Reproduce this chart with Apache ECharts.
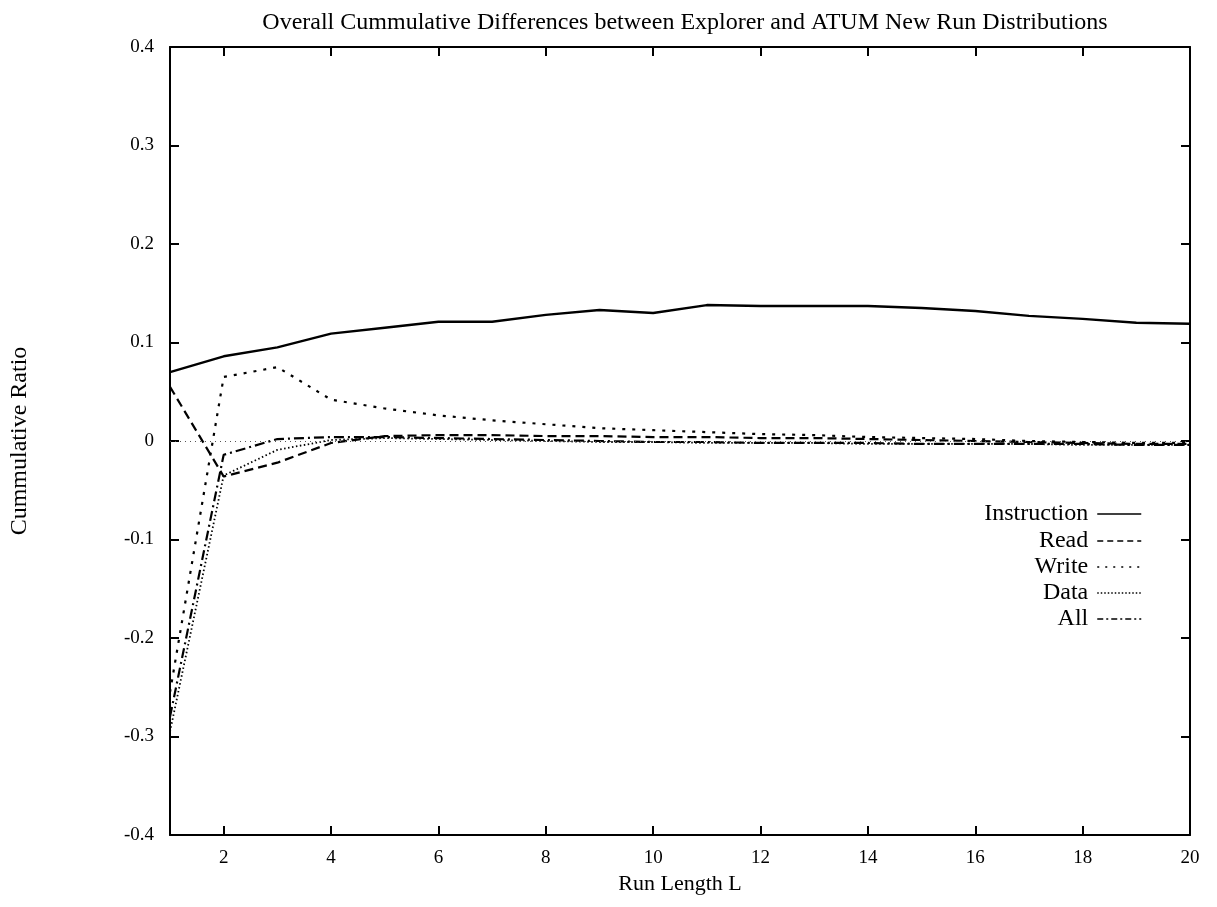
<!DOCTYPE html>
<html>
<head>
<meta charset="utf-8">
<script src="https://cdn.jsdelivr.net/npm/echarts@6/dist/echarts.min.js"></script>
<style>html,body{margin:0;padding:0;background:#fff}#c{width:1217px;height:907px}</style>
</head>
<body>
<div id="c"></div>
<script>
const runLength = [1,2,3,4,5,6,7,8,9,10,11,12,13,14,15,16,17,18,19,20];
const instruction = [0.070,0.086,0.095,0.109,0.115,0.121,0.121,0.128,0.133,0.130,0.138,0.137,0.137,0.137,0.135,0.132,0.127,0.124,0.120,0.119];
const read = [0.055,-0.036,-0.022,-0.002,0.005,0.006,0.006,0.005,0.005,0.004,0.004,0.003,0.003,0.002,0.001,0.000,-0.001,-0.002,-0.003,-0.003];
const write = [-0.255,0.065,0.075,0.042,0.033,0.026,0.021,0.017,0.013,0.011,0.009,0.007,0.006,0.004,0.003,0.002,0.000,-0.001,-0.002,-0.002];
const dataSeries = [-0.295,-0.035,-0.009,0.001,0.003,0.002,0.001,0.000,-0.001,-0.001,-0.002,-0.002,-0.002,-0.003,-0.003,-0.003,-0.003,-0.004,-0.004,-0.004];
const all = [-0.280,-0.014,0.002,0.004,0.004,0.003,0.002,0.001,0.000,-0.001,-0.001,-0.002,-0.002,-0.002,-0.003,-0.003,-0.003,-0.003,-0.004,-0.004];
const xTicks = [2,4,6,8,10,12,14,16,18,20];
const names = ['Instruction','Read','Write','Data','All'];

const font = 'Liberation Serif, Times New Roman, serif';
const chart = echarts.init(document.getElementById('c'), null, {renderer:'canvas'});
const pair = arr => runLength.map((x,i)=>[x,arr[i]]);
const styles = [
  {type:'solid', width:2.4},
  {type:[9,5], width:2.2},
  {type:[3,7], width:2.2},
  {type:[1.5,2.5], width:1.8},
  {type:[10,4,2,4], width:2.2}
];
const legendDash = ['solid',[6,4],[2,6],[1.5,2],[6,3,2,3]];
const values = [instruction, read, write, dataSeries, all];
const series = names.map((n,i)=>({
  name:n, type:'line', data:pair(values[i]), showSymbol:false, symbol:'none',
  lineStyle:{color:'#000', width:styles[i].width, type:styles[i].type},
  itemStyle:{color:'#000'}, z: 3, animation:false,
  markLine: i===0 ? {silent:true, symbol:'none', label:{show:false},
    lineStyle:{color:'#555', type:[1,4], width:1}, data:[{yAxis:0}]} : undefined
}));
const rowCenters = [515, 542, 568, 594, 620];
const legends = names.map((n,i)=>({
  data:[n], orient:'vertical', align:'right', right:75, top:rowCenters[i]-13,
  itemWidth:44, itemHeight:14, selectedMode:false, padding:0,
  textStyle:{fontFamily:font, fontSize:24, color:'#000', padding:[0,4,0,0]},
  itemStyle:{opacity:0, borderWidth:0, color:'rgba(0,0,0,0)'},
  lineStyle:{width:1.5, type:legendDash[i], color:'#000'}
}));
const tickStyle = {show:true, inside:true, length:9, lineStyle:{color:'#000', width:2}};
chart.setOption({
  animation:false,
  backgroundColor:'#fff',
  title:{text:'Overall Cummulative Differences between Explorer and ATUM New Run Distributions',
    left:680, textAlign:'center', top:6,
    textStyle:{fontFamily:font, fontSize:24, fontWeight:'normal', color:'#000'}},
  legend:legends,
  grid:{left:170, right:27, top:47, bottom:72},
  xAxis:[
    {type:'value', min:1, max:20, position:'bottom',
     name:'Run Length L', nameLocation:'middle', nameGap:38,
     nameTextStyle:{fontFamily:font, fontSize:22, color:'#000'},
     axisLine:{show:true, onZero:false, lineStyle:{color:'#000', width:2}},
     axisTick:Object.assign({customValues:xTicks}, tickStyle),
     axisLabel:{customValues:xTicks, fontFamily:font, fontSize:19, color:'#000', margin:14},
     splitLine:{show:false}},
    {type:'value', min:1, max:20, position:'top',
     axisLine:{show:true, onZero:false, lineStyle:{color:'#000', width:2}},
     axisTick:Object.assign({customValues:xTicks}, tickStyle),
     axisLabel:{show:false}, splitLine:{show:false}}
  ],
  yAxis:[
    {type:'value', min:-0.4, max:0.4, interval:0.1, position:'left',
     name:'Cummulative Ratio', nameLocation:'middle', nameGap:138, nameRotate:90,
     nameTextStyle:{fontFamily:font, fontSize:24, color:'#000'},
     axisLine:{show:true, onZero:false, lineStyle:{color:'#000', width:2}},
     axisTick:tickStyle,
     axisLabel:{fontFamily:font, fontSize:19, color:'#000', margin:16},
     splitLine:{show:false}},
    {type:'value', min:-0.4, max:0.4, interval:0.1, position:'right',
     axisLine:{show:true, onZero:false, lineStyle:{color:'#000', width:2}},
     axisTick:tickStyle, axisLabel:{show:false}, splitLine:{show:false}}
  ],
  series:series
});
</script>
</body>
</html>
